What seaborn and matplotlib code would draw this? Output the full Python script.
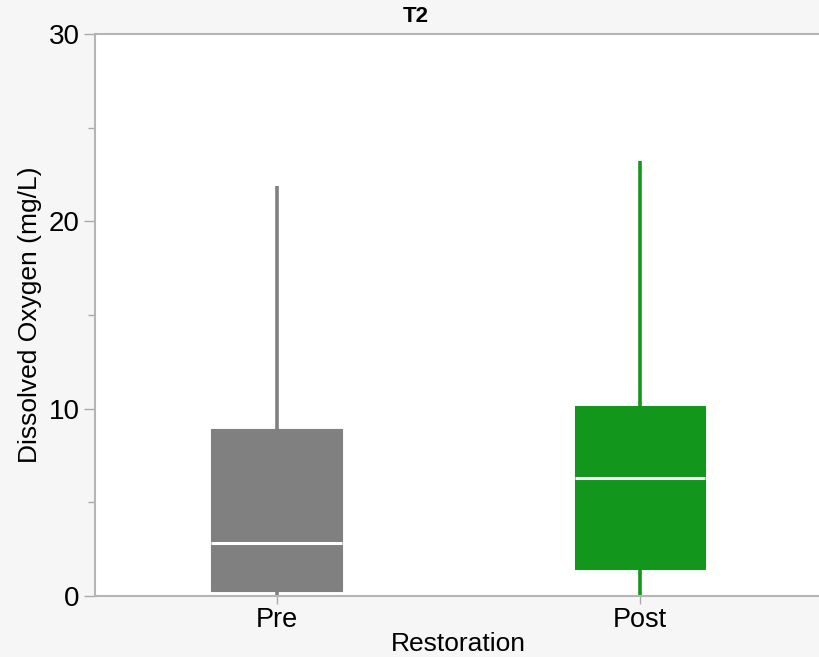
import numpy as np
import pandas as pd
import matplotlib
matplotlib.use("Agg")
import matplotlib.pyplot as plt
import seaborn as sns
from matplotlib.ticker import MultipleLocator

# Box summary values: min, Q1, median, Q3, max
categories = ["Pre", "Post"]
pre_values = [0.0, 0.27, 2.83, 8.92, 21.9]
post_values = [0.0, 1.44, 6.30, 10.14, 23.2]
colors = {"Pre": "#808080", "Post": "#12961c"}

df = pd.DataFrame({
    "Restoration": ["Pre"] * len(pre_values) + ["Post"] * len(post_values),
    "DO": pre_values + post_values,
})

sns.set_theme(style="white")
plt.rcParams["font.family"] = ["Liberation Sans", "DejaVu Sans"]

fig = plt.figure(figsize=(8.2, 6.57), dpi=100, facecolor="#f6f6f6")
ax = fig.add_axes([95 / 820, 1 - 596 / 657, 1 - 95 / 820 + 0.002, (596 - 34) / 657])
ax.set_facecolor("white")

sns.boxplot(
    data=df, x="Restoration", y="DO", order=categories, hue="Restoration",
    palette=colors, saturation=1, whis=np.inf, width=0.36, ax=ax, legend=False,
    linewidth=0, showcaps=False, showfliers=False,
    medianprops=dict(color="white", linewidth=2.2),
    boxprops=dict(linewidth=0.8),
)
for ln in ax.lines:
    xd = ln.get_xdata()
    if len(xd) == 2 and np.isclose(xd[0], xd[1]):
        idx = int(round(xd[0]))
        ln.set_color(colors[categories[idx]])
        ln.set_linewidth(2.6)
for p, cat in zip(ax.patches, categories):
    p.set_edgecolor(colors[cat])
    p.set_linewidth(0.8)

ax.set_xlim(-0.5, 1.5)
ax.set_ylim(0, 30)
ax.yaxis.set_major_locator(MultipleLocator(10))
ax.yaxis.set_minor_locator(MultipleLocator(5))
ax.tick_params(axis="y", which="major", left=True, length=8, width=1, color="#aaaaaa",
               labelsize=20, pad=3, labelcolor="black")
ax.tick_params(axis="y", which="minor", left=True, length=5, width=1, color="#aaaaaa")
ax.tick_params(axis="x", bottom=True, length=6, width=1, color="#aaaaaa",
               labelsize=19.5, pad=2, labelcolor="black")

for side in ["left", "bottom", "top"]:
    ax.spines[side].set_visible(True)
    ax.spines[side].set_color("#b5b5b5")
    ax.spines[side].set_linewidth(1.5)
ax.spines["right"].set_visible(False)

ax.set_xlabel("Restoration", fontsize=19, labelpad=-1, color="black")
ax.set_ylabel("Dissolved Oxygen (mg/L)", fontsize=19, labelpad=5, color="black")
fig.text(416 / 820, 1 - 17 / 657, "T2", ha="center", va="center",
         fontsize=16, fontweight="bold", color="black")

fig.savefig("out.png", dpi=100, facecolor=fig.get_facecolor())
